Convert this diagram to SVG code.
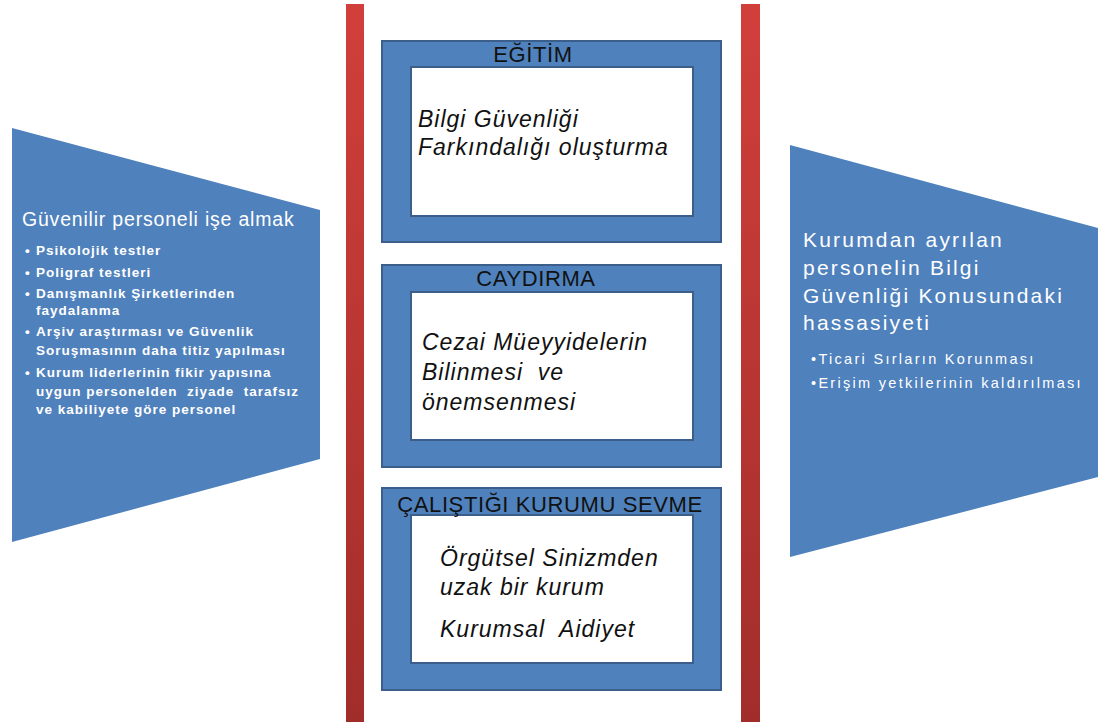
<svg xmlns="http://www.w3.org/2000/svg" width="1101" height="728" viewBox="0 0 1101 728">
<defs>
<linearGradient id="redg" x1="0" y1="0" x2="0" y2="1">
<stop offset="0" stop-color="#d13f3b"/>
<stop offset="1" stop-color="#a12d2a"/>
</linearGradient>
<style>
.shape{fill:#4f81bd;}
.outer{fill:#4f81bd;stroke:#3b5f8a;stroke-width:2;}
.inner{fill:#ffffff;stroke:#3b5f8a;stroke-width:2;}
.bar{fill:url(#redg);}
.title{font-family:"Liberation Sans",Arial,sans-serif;font-size:22px;letter-spacing:0.6px;fill:#111;text-anchor:middle;}
.it{font-family:"Liberation Sans",Arial,sans-serif;font-size:23px;letter-spacing:1px;font-style:italic;fill:#111;}
.wt{font-family:"Liberation Sans",Arial,sans-serif;fill:#fff;}
.bl{font-family:"Liberation Sans",Arial,sans-serif;font-size:13.5px;letter-spacing:1px;font-weight:bold;fill:#fff;}
</style>
</defs>
<rect width="1101" height="728" fill="#fff"/>
<g id="bars">
<rect class="bar" x="346" y="4" width="18" height="718"/>
<rect class="bar" x="741" y="4" width="19" height="718"/>
</g>
<g id="left">
<polygon class="shape" points="12,128 320,210 320,459 12,542"/>
<text class="wt" x="22" y="226" font-size="19.5" letter-spacing="0.8">Güvenilir personeli işe almak</text>
<text class="bl">
<tspan x="25" y="255">•</tspan><tspan x="36" y="255">Psikolojik testler</tspan>
<tspan x="25" y="277">•</tspan><tspan x="36" y="277">Poligraf testleri</tspan>
<tspan x="25" y="298">•</tspan><tspan x="36" y="298">Danışmanlık Şirketlerinden</tspan>
<tspan x="36" y="315">faydalanma</tspan>
<tspan x="25" y="336">•</tspan><tspan x="36" y="336">Arşiv araştırması ve Güvenlik</tspan>
<tspan x="36" y="355">Soruşmasının daha titiz yapılması</tspan>
<tspan x="25" y="377">•</tspan><tspan x="36" y="377">Kurum liderlerinin fikir yapısına</tspan>
<tspan x="36" y="396">uygun personelden&#160; ziyade&#160; tarafsız</tspan>
<tspan x="36" y="414">ve kabiliyete göre personel</tspan>
</text>
</g>
<g id="egitim">
<rect class="outer" x="382" y="41" width="339" height="201"/>
<rect class="inner" x="411" y="67" width="282" height="149"/>
<text class="title" x="533" y="62">EĞİTİM</text>
<text class="it"><tspan x="418" y="127">Bilgi Güvenliği</tspan><tspan x="418" y="155">Farkındalığı oluşturma</tspan></text>
</g>
<g id="caydirma">
<rect class="outer" x="382" y="265" width="339" height="202"/>
<rect class="inner" x="411" y="292" width="282" height="148"/>
<text class="title" x="536" y="286">CAYDIRMA</text>
<text class="it"><tspan x="422" y="350">Cezai Müeyyidelerin</tspan><tspan x="422" y="380">Bilinmesi&#160; ve</tspan><tspan x="422" y="410">önemsenmesi</tspan></text>
</g>
<g id="sevme">
<rect class="outer" x="382" y="488" width="339" height="202"/>
<rect class="inner" x="411" y="515" width="282" height="148"/>
<text class="title" x="550" y="512">ÇALIŞTIĞI KURUMU SEVME</text>
<text class="it"><tspan x="440" y="566">Örgütsel Sinizmden</tspan><tspan x="440" y="595">uzak bir kurum</tspan><tspan x="440" y="637">Kurumsal&#160; Aidiyet</tspan></text>
</g>
<g id="right">
<polygon class="shape" points="790,145 1098,228 1098,477 790,557"/>
<text class="wt" font-size="21" letter-spacing="2.2"><tspan x="803" y="247">Kurumdan ayrılan</tspan><tspan x="803" y="275">personelin Bilgi</tspan><tspan x="803" y="303">Güvenliği Konusundaki</tspan><tspan x="803" y="330">hassasiyeti</tspan></text>
<text class="wt" font-size="14.5" letter-spacing="2.3"><tspan x="811" y="364">•Ticari Sırların Korunması</tspan><tspan x="811" y="388">•Erişim yetkilerinin kaldırılması</tspan></text>
</g>
<g id="connectors"></g>
</svg>
